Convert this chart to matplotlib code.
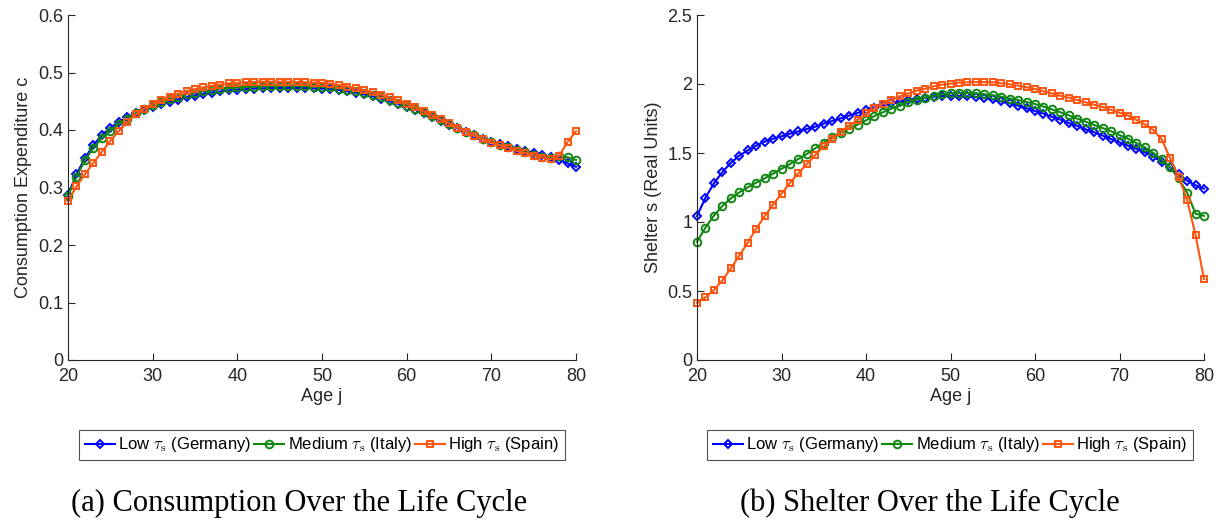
import matplotlib
matplotlib.use("Agg")
import matplotlib.pyplot as plt
import numpy as np

ages = list(range(20, 81))

cons_low = [0.287, 0.323, 0.351, 0.374, 0.391, 0.404, 0.414, 0.422, 0.429, 0.435,
            0.440, 0.445, 0.449, 0.453, 0.457, 0.460, 0.463, 0.465, 0.467, 0.469,
            0.470, 0.471, 0.472, 0.4725, 0.473, 0.473, 0.473, 0.473, 0.473, 0.4725,
            0.472, 0.471, 0.4695, 0.4675, 0.465, 0.462, 0.4585, 0.4545, 0.450, 0.4455,
            0.4405, 0.435, 0.429, 0.4225, 0.416, 0.4095, 0.403, 0.3965, 0.3905, 0.385,
            0.380, 0.3757, 0.3716, 0.3675, 0.3635, 0.360, 0.3565, 0.3525, 0.348, 0.342,
            0.336]
cons_med = [0.2855, 0.319, 0.347, 0.369, 0.386, 0.399, 0.410, 0.420, 0.429, 0.437,
            0.443, 0.449, 0.454, 0.458, 0.462, 0.465, 0.468, 0.470, 0.472, 0.473,
            0.474, 0.475, 0.4755, 0.476, 0.4765, 0.4765, 0.4765, 0.4765, 0.476, 0.4755,
            0.475, 0.474, 0.472, 0.470, 0.4675, 0.4645, 0.461, 0.457, 0.4525, 0.4475,
            0.4425, 0.437, 0.431, 0.4245, 0.418, 0.411, 0.404, 0.397, 0.3905, 0.3845,
            0.379, 0.3745, 0.370, 0.3655, 0.3615, 0.357, 0.353, 0.352, 0.3548, 0.3525,
            0.348]
cons_high = [0.276, 0.302, 0.323, 0.343, 0.362, 0.381, 0.398, 0.414, 0.427, 0.437,
             0.445, 0.452, 0.458, 0.463, 0.467, 0.471, 0.474, 0.477, 0.479, 0.481,
             0.482, 0.483, 0.4835, 0.484, 0.484, 0.484, 0.484, 0.4835, 0.483, 0.4825,
             0.482, 0.4805, 0.478, 0.4755, 0.4725, 0.469, 0.4655, 0.4615, 0.457, 0.4515,
             0.446, 0.440, 0.433, 0.426, 0.4185, 0.4115, 0.404, 0.397, 0.390, 0.384,
             0.378, 0.3735, 0.369, 0.364, 0.3595, 0.3555, 0.352, 0.349, 0.355, 0.379,
             0.398]

shel_low = [1.043, 1.176, 1.280, 1.362, 1.428, 1.481, 1.519, 1.553, 1.582, 1.604,
            1.621, 1.640, 1.657, 1.674, 1.691, 1.713, 1.732, 1.751, 1.771, 1.790,
            1.812, 1.829, 1.845, 1.860, 1.872, 1.884, 1.894, 1.901, 1.908, 1.913,
            1.913, 1.913, 1.911, 1.906, 1.899, 1.889, 1.874, 1.860, 1.843, 1.824,
            1.804, 1.785, 1.763, 1.742, 1.717, 1.696, 1.671, 1.650, 1.626, 1.601,
            1.577, 1.553, 1.529, 1.505, 1.473, 1.437, 1.396, 1.345, 1.300, 1.266,
            1.242]
shel_med = [0.857, 0.959, 1.046, 1.116, 1.171, 1.215, 1.251, 1.285, 1.316, 1.350,
            1.386, 1.420, 1.457, 1.493, 1.534, 1.575, 1.614, 1.647, 1.676, 1.705,
            1.737, 1.768, 1.795, 1.821, 1.843, 1.867, 1.886, 1.901, 1.913, 1.925,
            1.932, 1.935, 1.935, 1.932, 1.925, 1.918, 1.908, 1.894, 1.884, 1.870,
            1.855, 1.836, 1.816, 1.795, 1.773, 1.749, 1.727, 1.703, 1.681, 1.657,
            1.630, 1.604, 1.572, 1.541, 1.500, 1.454, 1.396, 1.316, 1.213, 1.060,
            1.045]
shel_high = [0.415, 0.454, 0.507, 0.577, 0.664, 0.756, 0.850, 0.952, 1.041, 1.126,
             1.205, 1.283, 1.353, 1.420, 1.486, 1.548, 1.604, 1.655, 1.696, 1.742,
             1.787, 1.824, 1.857, 1.886, 1.911, 1.932, 1.952, 1.966, 1.983, 1.995,
             2.002, 2.010, 2.012, 2.014, 2.014, 2.012, 2.005, 1.998, 1.988, 1.976,
             1.964, 1.947, 1.932, 1.915, 1.901, 1.884, 1.867, 1.850, 1.833, 1.812,
             1.792, 1.771, 1.739, 1.708, 1.667, 1.599, 1.461, 1.329, 1.159, 0.906,
             0.587]

labels = [r"Low $\tau_{\rm s}$ (Germany)", r"Medium $\tau_{\rm s}$ (Italy)",
          r"High $\tau_{\rm s}$ (Spain)"]
colors = ["#0000FF", "#118811", "#FF5511"]
markers = ["D", "o", "s"]
msizes = [4.5, 5.5, 4.0]

plt.rcParams['font.family'] = ['Liberation Sans', 'DejaVu Sans']
plt.rcParams['mathtext.fontset'] = 'cm'

fig = plt.figure(figsize=(12.24, 5.25), dpi=100)
axL = fig.add_axes([68/1224, 165/525, 508/1224, 345/525])
axR = fig.add_axes([697/1224, 165/525, 507/1224, 345/525])

def style(ax):
    for side in ["top", "right"]:
        ax.spines[side].set_visible(False)
    for side in ["left", "bottom"]:
        ax.spines[side].set_color("#262626")
        ax.spines[side].set_linewidth(0.8)
    ax.tick_params(direction="in", length=5, width=0.8, colors="#262626",
                   labelsize=13, labelcolor="#262626")
    ax.tick_params(axis="x", pad=6)
    ax.set_xlim(20, 80)
    ax.set_xticks([20, 30, 40, 50, 60, 70, 80])
    ax.set_xlabel("Age j", fontsize=13, color="#262626", labelpad=2)

def draw(ax, series):
    hs = []
    for s, c, m, ms, lab in zip(series, colors, markers, msizes, labels):
        h, = ax.plot(ages, s, color=c, marker=m, markersize=ms, markerfacecolor="none",
                     markeredgewidth=1.4, linewidth=1.5, label=lab, clip_on=False)
        hs.append(h)
    return hs

style(axL)
draw(axL, [cons_low, cons_med, cons_high])
axL.set_ylim(0, 0.6)
axL.set_yticks([0, 0.1, 0.2, 0.3, 0.4, 0.5, 0.6])
axL.set_yticklabels(["0", "0.1", "0.2", "0.3", "0.4", "0.5", "0.6"])
axL.set_ylabel("Consumption Expenditure c", fontsize=13, color="#262626", labelpad=4)

style(axR)
draw(axR, [shel_low, shel_med, shel_high])
axR.set_ylim(0, 2.5)
axR.set_yticks([0, 0.5, 1, 1.5, 2, 2.5])
axR.set_yticklabels(["0", "0.5", "1", "1.5", "2", "2.5"])
axR.set_ylabel("Shelter s (Real Units)", fontsize=13, color="#262626", labelpad=4)

for ax, cx in [(axL, 322/1224), (axR, 950/1224)]:
    leg = ax.legend(loc="center", bbox_to_anchor=(cx, 1 - 445/525), bbox_transform=fig.transFigure,
                    ncol=3, fontsize=12, frameon=True, fancybox=False, handlelength=1.8,
                    handletextpad=0.2, columnspacing=0.2, borderpad=0.35, borderaxespad=0)
    leg.get_frame().set_edgecolor("#262626")
    leg.get_frame().set_linewidth(0.8)

fig.text(299/1224, 1 - 503/525, "(a) Consumption Over the Life Cycle",
         family="Liberation Serif", fontsize=22, ha="center", va="center")
fig.text(930/1224, 1 - 503/525, "(b) Shelter Over the Life Cycle",
         family="Liberation Serif", fontsize=22, ha="center", va="center")

fig.savefig("out.png", dpi=100)
